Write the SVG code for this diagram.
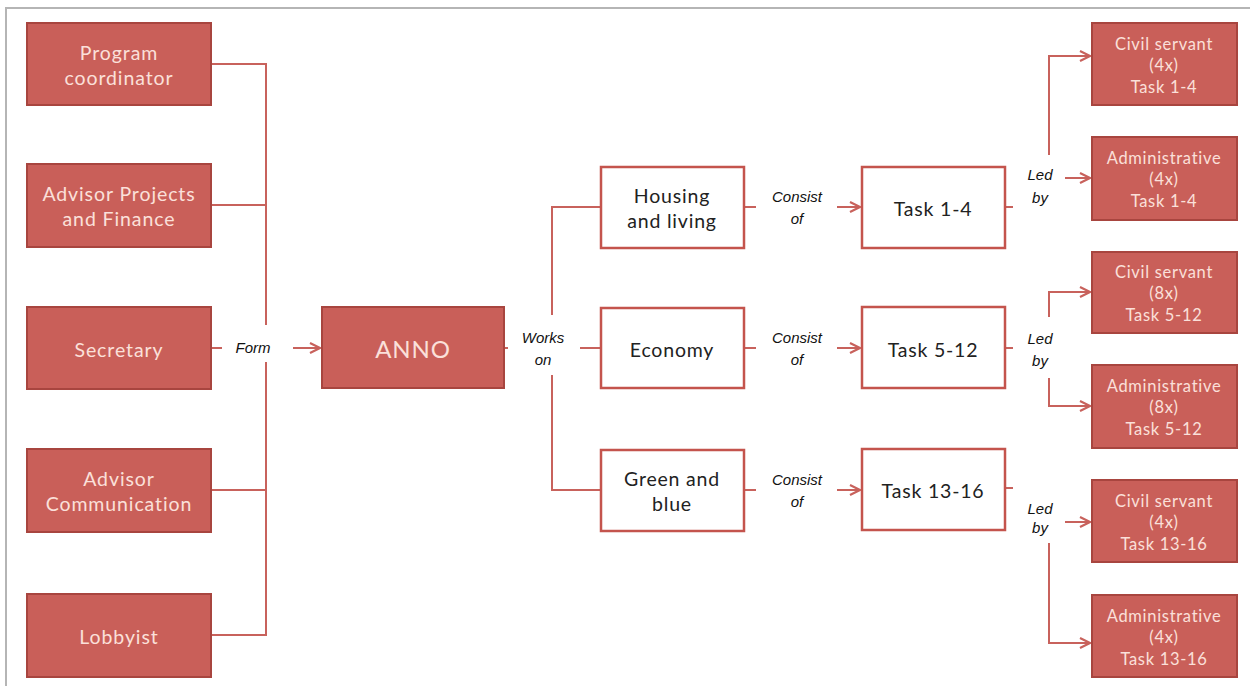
<svg xmlns="http://www.w3.org/2000/svg" width="1250" height="686" viewBox="0 0 1250 686">
<defs>
<style>
.rb{fill:#c95f59;stroke:#a8453f;stroke-width:2}
.wb{fill:#fff;stroke:#c4544d;stroke-width:2.5}
.rt{font-family:Lato,"Noto Sans",sans-serif;font-size:19.5px;letter-spacing:0.9px;fill:#fbe0da;text-anchor:middle}
.st{font-family:Lato,"Noto Sans",sans-serif;font-size:16.5px;letter-spacing:0.7px;fill:#fbe0da;text-anchor:middle}
.wt{font-family:Lato,"Noto Sans",sans-serif;font-size:19.5px;letter-spacing:0.8px;fill:#222;text-anchor:middle}
.lb{font-family:"Liberation Sans",Arial,sans-serif;font-size:15px;font-style:italic;fill:#111;text-anchor:middle}
.c{fill:none;stroke:#c8625c;stroke-width:2}
</style>
<marker id="ah" viewBox="0 0 12 12" refX="11" refY="6" markerWidth="12" markerHeight="12" markerUnits="userSpaceOnUse" orient="auto">
<path d="M1,1 L11,6 L1,11" fill="none" stroke="#c8625c" stroke-width="2.2"/>
</marker>
</defs>
<rect x="0" y="0" width="1250" height="686" fill="#fff"/>
<path d="M6,686 L6,8 L1250,8" fill="none" stroke="#b5b5b5" stroke-width="2"/>

<g id="connectors">
<path class="c" d="M211,64 H266 V325 M266,362 V635 H211 M211,205 H266 M211,490 H266"/>
<path class="c" d="M211,348 H222"/>
<path class="c" d="M293,348 H320" marker-end="url(#ah)"/>
<path class="c" d="M504,348 H508 M580,348 H601 M601,207 H552 V315 M552,375 V490 H601"/>
<path class="c" d="M744,207 H756 M744,348 H756 M744,490 H756"/>
<path class="c" d="M837,207 H860" marker-end="url(#ah)"/>
<path class="c" d="M837,348 H860" marker-end="url(#ah)"/>
<path class="c" d="M837,490 H860" marker-end="url(#ah)"/>
<path class="c" d="M1005,207 H1013 M1005,348 H1013 M1005,488 H1013"/>
<path class="c" d="M1049,155 V56 H1090" marker-end="url(#ah)"/>
<path class="c" d="M1065,178 H1090" marker-end="url(#ah)"/>
<path class="c" d="M1049,317 V292 H1090" marker-end="url(#ah)"/>
<path class="c" d="M1049,378 V406 H1090" marker-end="url(#ah)"/>
<path class="c" d="M1065,522 H1090" marker-end="url(#ah)"/>
<path class="c" d="M1049,543 V643 H1090" marker-end="url(#ah)"/>
<text class="lb" x="253" y="353">Form</text>
<text class="lb" x="543" y="343">Works</text>
<text class="lb" x="543" y="365">on</text>
<text class="lb" x="797" y="202">Consist</text>
<text class="lb" x="797" y="224">of</text>
<text class="lb" x="797" y="343">Consist</text>
<text class="lb" x="797" y="365">of</text>
<text class="lb" x="797" y="485">Consist</text>
<text class="lb" x="797" y="507">of</text>
<text class="lb" x="1040" y="180">Led</text>
<text class="lb" x="1040" y="203">by</text>
<text class="lb" x="1040" y="344">Led</text>
<text class="lb" x="1040" y="366">by</text>
<text class="lb" x="1040" y="514">Led</text>
<text class="lb" x="1040" y="533">by</text>
</g>

<g id="program-coordinator"><rect class="rb" x="27" y="23" width="184" height="82"/><text class="rt" x="119" y="60">Program</text><text class="rt" x="119" y="85">coordinator</text></g>
<g id="advisor-projects"><rect class="rb" x="27" y="164" width="184" height="83"/><text class="rt" x="119" y="201">Advisor Projects</text><text class="rt" x="119" y="226">and Finance</text></g>
<g id="secretary"><rect class="rb" x="27" y="307" width="184" height="82"/><text class="rt" x="119" y="357">Secretary</text></g>
<g id="advisor-communication"><rect class="rb" x="27" y="449" width="184" height="83"/><text class="rt" x="119" y="486">Advisor</text><text class="rt" x="119" y="511">Communication</text></g>
<g id="lobbyist"><rect class="rb" x="27" y="594" width="184" height="83"/><text class="rt" x="119" y="644">Lobbyist</text></g>

<g id="anno"><rect class="rb" x="322" y="307" width="182" height="81"/><text class="rt" x="413" y="358" style="font-size:24px">ANNO</text></g>

<g id="housing"><rect class="wb" x="601" y="167" width="143" height="81"/><text class="wt" x="672" y="203">Housing</text><text class="wt" x="672" y="228">and living</text></g>
<g id="economy"><rect class="wb" x="601" y="308" width="143" height="80"/><text class="wt" x="672" y="357">Economy</text></g>
<g id="green-blue"><rect class="wb" x="601" y="450" width="143" height="81"/><text class="wt" x="672" y="486">Green and</text><text class="wt" x="672" y="511">blue</text></g>

<g id="task-1-4"><rect class="wb" x="862" y="167" width="143" height="81"/><text class="wt" x="933" y="216">Task 1-4</text></g>
<g id="task-5-12"><rect class="wb" x="862" y="307" width="143" height="81"/><text class="wt" x="933" y="357">Task 5-12</text></g>
<g id="task-13-16"><rect class="wb" x="862" y="449" width="143" height="81"/><text class="wt" x="933" y="498">Task 13-16</text></g>

<g id="civil-1"><rect class="rb" x="1092" y="23" width="145" height="82"/><text class="st" x="1164" y="50">Civil servant</text><text class="st" x="1164" y="71">(4x)</text><text class="st" x="1164" y="93">Task 1-4</text></g>
<g id="admin-1"><rect class="rb" x="1092" y="137" width="145" height="83"/><text class="st" x="1164" y="164">Administrative</text><text class="st" x="1164" y="185">(4x)</text><text class="st" x="1164" y="207">Task 1-4</text></g>
<g id="civil-2"><rect class="rb" x="1092" y="252" width="145" height="81"/><text class="st" x="1164" y="278">Civil servant</text><text class="st" x="1164" y="299">(8x)</text><text class="st" x="1164" y="321">Task 5-12</text></g>
<g id="admin-2"><rect class="rb" x="1092" y="365" width="145" height="83"/><text class="st" x="1164" y="392">Administrative</text><text class="st" x="1164" y="413">(8x)</text><text class="st" x="1164" y="435">Task 5-12</text></g>
<g id="civil-3"><rect class="rb" x="1092" y="480" width="145" height="82"/><text class="st" x="1164" y="507">Civil servant</text><text class="st" x="1164" y="528">(4x)</text><text class="st" x="1164" y="550">Task 13-16</text></g>
<g id="admin-3"><rect class="rb" x="1092" y="595" width="145" height="82"/><text class="st" x="1164" y="622">Administrative</text><text class="st" x="1164" y="643">(4x)</text><text class="st" x="1164" y="665">Task 13-16</text></g>
</svg>
